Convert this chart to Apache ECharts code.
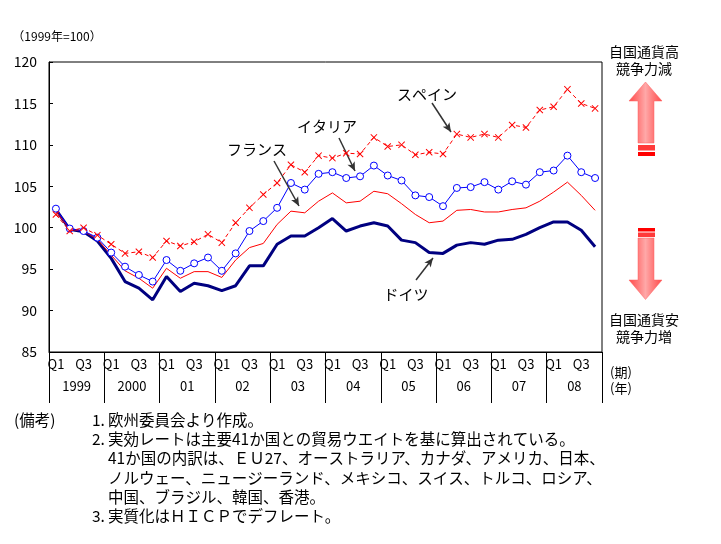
<!DOCTYPE html>
<html>
<head>
<meta charset="utf-8">
<script src="https://cdn.jsdelivr.net/npm/echarts@6/dist/echarts.min.js"></script>
<style>
  html, body { margin: 0; padding: 0; background: #fff; }
  #chart { width: 721px; height: 544px; }
</style>
</head>
<body>
<div id="chart"></div>
<script>
// 実質実効為替レート（1999年=100）四半期
const years = ['1999', '2000', '01', '02', '03', '04', '05', '06', '07', '08']
const quarterNames = ['Q1', 'Q2', 'Q3', 'Q4']
const shownQuarters = ['Q1', 'Q3']

const spain = [101.6, 99.6, 100.0, 99.1, 98.0, 96.9, 97.1, 96.4, 98.4, 97.8,
  98.3, 99.2, 98.2, 100.6, 102.4, 104.0, 105.4, 107.6, 106.7, 108.7,
  108.4, 109.0, 108.9, 110.9, 109.8, 110.0, 108.8, 109.1, 108.9, 111.3,
  110.9, 111.3, 110.9, 112.4, 112.1, 114.2, 114.6, 116.7, 115.0, 114.4]
const italy = [102.3, 99.9, 99.6, 98.8, 97.0, 95.3, 94.3, 93.5, 96.1, 94.8,
  95.7, 96.4, 94.8, 96.9, 99.6, 100.8, 102.4, 105.4, 104.6, 106.5,
  106.7, 106.0, 106.2, 107.5, 106.3, 105.7, 103.9, 103.7, 102.6, 104.8,
  104.9, 105.5, 104.6, 105.6, 105.2, 106.7, 106.9, 108.7, 106.7, 106.0]
const france = [102.0, 99.8, 99.6, 98.6, 96.7, 94.8, 93.9, 92.7, 95.1, 93.9,
  94.7, 94.7, 94.0, 96.1, 97.6, 98.1, 100.4, 102.0, 101.8, 103.2,
  104.2, 103.0, 103.2, 104.4, 104.1, 102.9, 101.6, 100.6, 100.8, 102.1,
  102.2, 101.9, 101.9, 102.2, 102.4, 103.2, 104.3, 105.5, 103.9, 102.1]
const germany = [102.2, 99.8, 99.5, 98.4, 96.3, 93.5, 92.7, 91.3, 94.1, 92.3,
  93.3, 93.0, 92.4, 93.0, 95.4, 95.4, 98.0, 99.0, 99.0, 100.0,
  101.1, 99.6, 100.2, 100.6, 100.2, 98.5, 98.2, 97.0, 96.9, 97.9,
  98.2, 98.0, 98.5, 98.6, 99.2, 100.0, 100.7, 100.7, 99.7, 97.7]

const yMin = 85
const yMax = 120
const yStep = 5

const notes = [
  ['(備考)', '1.', '欧州委員会より作成。'],
  ['', '2.', '実効レートは主要41か国との貿易ウエイトを基に算出されている。'],
  ['', '', '41か国の内訳は、ＥＵ27、オーストラリア、カナダ、アメリカ、日本、'],
  ['', '', 'ノルウェー、ニュージーランド、メキシコ、スイス、トルコ、ロシア、'],
  ['', '', '中国、ブラジル、韓国、香港。'],
  ['', '3.', '実質化はＨＩＣＰでデフレート。']
]

const categories = years.flatMap((y) => quarterNames.map((q) => y + q))

const FONT = '"Noto Sans CJK JP", "Noto Sans", sans-serif'
const chart = echarts.init(document.getElementById('chart'))

const crossSymbol = 'path://M1,0L5,4L9,0L10,1L6,5L10,9L9,10L5,6L1,10L0,9L4,5L0,1Z'

// 注記用の矢印（ピクセル位置）
const pointers = [
  [{ x: 432, y: 103 }, { x: 451, y: 132 }],
  [{ x: 339, y: 138 }, { x: 355, y: 171 }],
  [{ x: 274, y: 161 }, { x: 299, y: 206 }],
  [{ x: 416, y: 280 }, { x: 433, y: 258 }]
]

const labelText = (text, x, y, size) => ({
  type: 'text',
  x: x,
  y: y,
  style: {
    text: text,
    font: size + 'px ' + FONT,
    fill: '#000',
    align: 'center',
    verticalAlign: 'middle'
  }
})

const blockGradient = {
  type: 'linear', x: 0, y: 0, x2: 1, y2: 0,
  colorStops: [
    { offset: 0, color: '#ff4a4a' },
    { offset: 0.3, color: '#ff8080' },
    { offset: 0.5, color: '#ffa8a8' },
    { offset: 0.7, color: '#ff8080' },
    { offset: 1, color: '#ff4a4a' }
  ]
}

const graphics = [
  labelText('（1999年=100）', 57, 36, 12),
  labelText('スペイン', 427, 94, 15),
  labelText('イタリア', 327, 126, 15),
  labelText('フランス', 257, 149, 15),
  labelText('ドイツ', 406, 294, 15),
  labelText('(期)', 621, 372, 13),
  labelText('(年)', 621, 388, 13),
  labelText('自国通貨高', 644, 52, 14),
  labelText('競争力減', 644, 69, 14),
  labelText('自国通貨安', 644, 320, 14),
  labelText('競争力増', 644, 337, 14),
  // 上向き矢印
  {
    type: 'polygon',
    shape: { points: [[645.5, 82], [662, 101], [654, 101], [654, 143], [638, 143], [638, 101], [629, 101]] },
    style: { fill: blockGradient, stroke: '#ff6060', lineWidth: 0.5 }
  },
  { type: 'rect', shape: { x: 638, y: 145, width: 17, height: 5.5 }, style: { fill: '#ff3a3a' } },
  { type: 'rect', shape: { x: 638, y: 152, width: 17, height: 4 }, style: { fill: '#ff0000' } },
  // 下向き矢印
  { type: 'rect', shape: { x: 638, y: 228, width: 17, height: 3.5 }, style: { fill: '#ff0000' } },
  { type: 'rect', shape: { x: 638, y: 232.5, width: 17, height: 4.5 }, style: { fill: '#ff3a3a' } },
  {
    type: 'polygon',
    shape: { points: [[638, 238], [654, 238], [654, 280], [662, 280], [645.5, 299.5], [629, 280], [638, 280]] },
    style: { fill: blockGradient, stroke: '#ff6060', lineWidth: 0.5 }
  }
]

notes.forEach((row, i) => {
  const y = 420 + i * 19.3
  const cols = [14, 92, 108]
  row.forEach((t, j) => {
    if (!t) return
    graphics.push({
      type: 'text',
      x: cols[j],
      y: y,
      style: { text: t, font: '15.5px ' + FONT, fill: '#000', verticalAlign: 'middle' }
    })
  })
})

const option = {
  animation: false,
  backgroundColor: '#fff',
  textStyle: { fontFamily: FONT },
  grid: {
    left: 49,
    right: 119,
    top: 62,
    bottom: 192,
    show: true,
    borderColor: '#000',
    borderWidth: 1,
    outerBoundsMode: 'none'
  },
  xAxis: [
    {
      type: 'category',
      data: categories,
      boundaryGap: true,
      axisLine: { show: true, lineStyle: { color: '#000', width: 1 } },
      axisTick: { show: false },
      axisLabel: {
        interval: 0,
        margin: 6,
        color: '#000',
        fontSize: 13,
        fontFamily: FONT,
        formatter: (v, idx) => {
          const q = quarterNames[idx % 4]
          return shownQuarters.includes(q) ? q : ''
        }
      },
      splitLine: { show: false }
    },
    {
      type: 'category',
      data: years,
      position: 'bottom',
      boundaryGap: true,
      axisLine: { show: false },
      axisTick: { show: true, length: 51, lineStyle: { color: '#000', width: 1 } },
      axisLabel: { interval: 0, margin: 28, color: '#000', fontSize: 13, fontFamily: FONT },
      splitLine: { show: false }
    }
  ],
  yAxis: {
    type: 'value',
    min: yMin,
    max: yMax,
    interval: yStep,
    axisLine: { show: true, lineStyle: { color: '#000', width: 1 } },
    axisTick: { show: true, inside: true, length: 4, lineStyle: { color: '#000' } },
    axisLabel: { color: '#000', fontSize: 14, margin: 12, fontFamily: FONT },
    splitLine: { show: false }
  },
  series: [
    {
      name: 'ドイツ',
      type: 'line',
      data: germany,
      symbol: 'none',
      lineStyle: { color: '#000080', width: 3 },
      itemStyle: { color: '#000080' },
      z: 2,
      markLine: {
        silent: true,
        symbol: ['none', 'arrow'],
        symbolSize: [6, 9],
        label: { show: false },
        lineStyle: { color: '#333', width: 1.5, type: 'solid' },
        data: pointers
      }
    },
    {
      name: 'フランス',
      type: 'line',
      data: france,
      symbol: 'none',
      lineStyle: { color: '#ff0000', width: 1 },
      itemStyle: { color: '#ff0000' },
      z: 3
    },
    {
      name: 'イタリア',
      type: 'line',
      data: italy,
      symbol: 'circle',
      symbolSize: 7,
      showAllSymbol: true,
      lineStyle: { color: '#0000ff', width: 1 },
      itemStyle: { color: '#fff', borderColor: '#0000ff', borderWidth: 1 },
      z: 4
    },
    {
      name: 'スペイン',
      type: 'line',
      data: spain,
      symbol: crossSymbol,
      symbolSize: 7,
      showAllSymbol: true,
      lineStyle: { color: '#ff0000', width: 1, type: [4, 3] },
      itemStyle: { color: '#ff0000' },
      z: 5
    }
  ],
  graphic: graphics
}

chart.setOption(option)
</script>
</body>
</html>
